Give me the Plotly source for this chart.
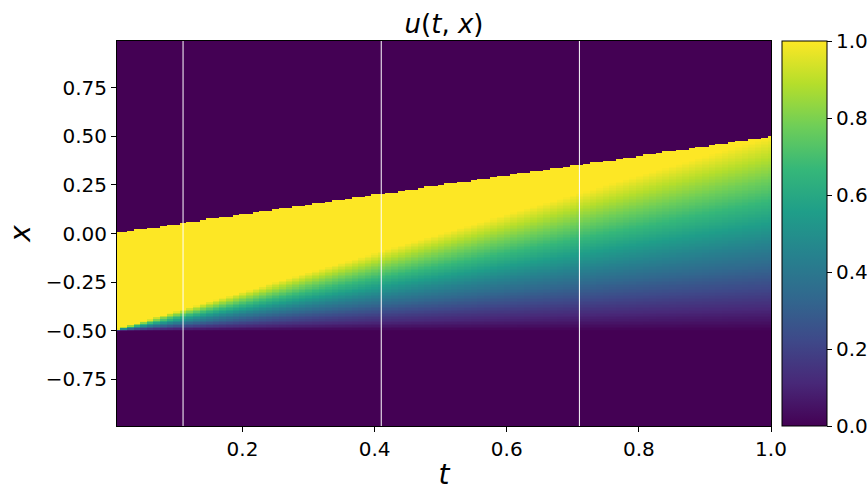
import numpy as np
import plotly.graph_objects as go

# Grid: 100 time columns, 256 space rows
t_values = np.round(np.linspace(0.01, 1.0, 100), 4)
x_values = np.linspace(-1.0, 1.0, 256)

# Features
fan_origin = -0.5      # lower edge of the yellow band at t -> 0
shock_start = 0.0      # upper edge of the band at t -> 0
shock_end = 0.5        # upper edge of the band at t = 1
marker_times = [0.11, 0.41, 0.71]   # white vertical lines

colorbar_ticks = [0.0, 0.2, 0.4, 0.6, 0.8, 1.0]
x_ticks = [0.2, 0.4, 0.6, 0.8, 1.0]
y_ticks = [-0.75, -0.5, -0.25, 0.0, 0.25, 0.5, 0.75]

T, X = np.meshgrid(t_values, x_values)
shock_pos = shock_start + (shock_end - shock_start) * T
fan_top = fan_origin + T
u = np.zeros_like(T)
fan = (X >= fan_origin) & (X < fan_top) & (X < shock_pos)
u[fan] = (X[fan] - fan_origin) / T[fan]
plateau = (X >= fan_top) & (X < shock_pos)
u[plateau] = 1.0

FONT = "DejaVu Sans"
TICK = 20

fig = go.Figure()
fig.add_trace(go.Heatmap(
    x=t_values, y=x_values, z=u,
    colorscale="Viridis", zmin=0, zmax=1, zsmooth=False,
    colorbar=dict(
        x=(782 - 117) / 654, xanchor="left", xpad=0, ypad=0,
        y=0.5, yanchor="middle", len=1.0, lenmode="fraction",
        thickness=45, thicknessmode="pixels",
        outlinecolor="black", outlinewidth=1,
        tickvals=colorbar_ticks, tickformat=".1f",
        ticks="outside", ticklen=5, tickcolor="black",
        tickfont=dict(family=FONT, size=TICK, color="black"),
    ),
))

for tm in marker_times:
    fig.add_shape(type="line", xref="x", yref="paper",
                  x0=tm, x1=tm, y0=0, y1=1,
                  line=dict(color="white", width=1))

fig.update_layout(
    width=867, height=499,
    margin=dict(l=117, r=96, t=41, b=73, autoexpand=False),
    paper_bgcolor="white", plot_bgcolor="white",
    font=dict(family=FONT, color="black"),
    title=dict(text="<i>u</i>(<i>t</i>, <i>x</i>)", x=(117 + 771) / 2 / 867,
               xanchor="center", y=1 - 24 / 499, yanchor="middle",
               font=dict(family=FONT, size=26, color="black")),
)
fig.update_xaxes(
    range=[0.01, 1.0], tickvals=x_ticks, tickformat=".1f",
    ticks="outside", ticklen=5, tickcolor="black",
    showline=True, linecolor="black", linewidth=1, mirror=True,
    showgrid=False, zeroline=False,
    tickfont=dict(family=FONT, size=TICK),
    title=dict(text="<i>t</i>", font=dict(family=FONT, size=28), standoff=4),
)
fig.update_yaxes(
    range=[-0.992, 0.992], tickvals=y_ticks, tickformat=".2f",
    ticks="outside", ticklen=5, tickcolor="black",
    showline=True, linecolor="black", linewidth=1, mirror=True,
    showgrid=False, zeroline=False,
    tickfont=dict(family=FONT, size=TICK),
    title=dict(text="<i>x</i>", font=dict(family=FONT, size=28), standoff=6),
)

fig.write_html(
    "out.html",
    config={"displayModeBar": False},
    post_script="document.body.style.margin='0';document.body.style.overflow='hidden';",
)
